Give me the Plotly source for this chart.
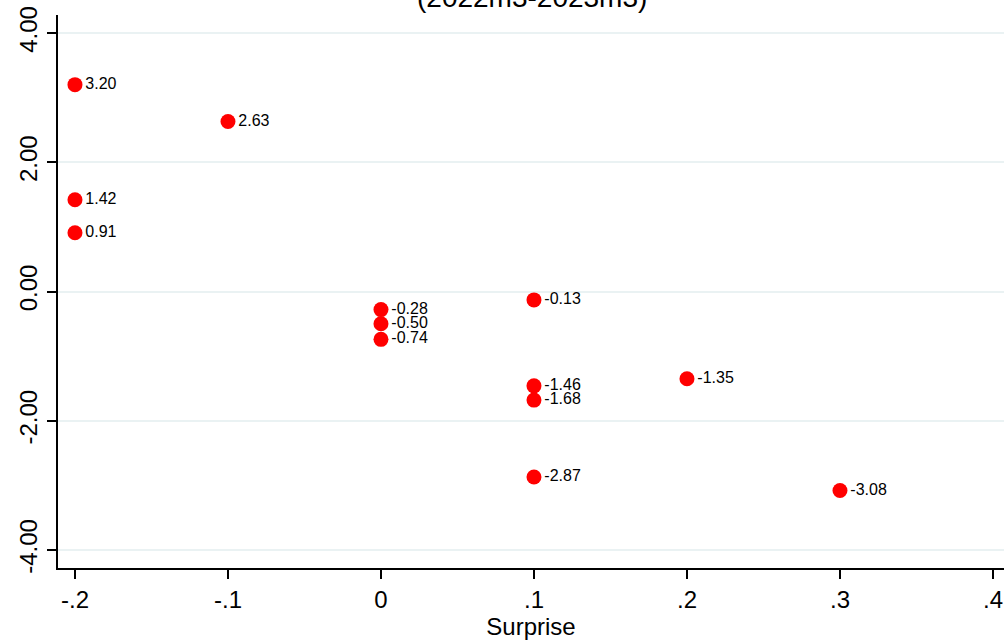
import plotly.graph_objects as go

surprise = [-0.2, -0.1, -0.2, -0.2, 0.0, 0.0, 0.0, 0.1, 0.1, 0.1, 0.2, 0.1, 0.3]
response = [3.20, 2.63, 1.42, 0.91, -0.28, -0.50, -0.74, -0.13, -1.46, -1.68, -1.35, -2.87, -3.08]
labels = [f"{v:.2f}" for v in response]

x_ticks = [-0.2, -0.1, 0.0, 0.1, 0.2, 0.3, 0.4]
x_ticktext = ["-.2", "-.1", "0", ".1", ".2", ".3", ".4"]
y_ticks = [-4, -2, 0, 2, 4]
y_ticktext = ["-4.00", "-2.00", "0.00", "2.00", "4.00"]

FONT = "Liberation Sans, Arial, sans-serif"

fig = go.Figure()
fig.add_trace(go.Scatter(
    x=surprise, y=response, mode="markers+text",
    text=labels, textposition="middle right",
    textfont=dict(family=FONT, size=16, color="black"),
    marker=dict(color="#ff0000", size=15, line=dict(width=0)),
    cliponaxis=False, showlegend=False,
))

fig.update_layout(
    width=1004, height=640,
    margin=dict(l=58, r=0, t=15, b=72),
    paper_bgcolor="white", plot_bgcolor="white",
    font=dict(family=FONT, color="black"),
    xaxis=dict(
        range=[-0.2111, 0.4072], tickvals=x_ticks, ticktext=x_ticktext,
        tickfont=dict(size=24), ticks="outside", ticklen=9, tickwidth=1.5, tickcolor="black",
        showline=True, linecolor="black", linewidth=2, showgrid=False, zeroline=False,
        title=dict(text="Surprise", font=dict(size=24), standoff=6),
    ),
    yaxis=dict(
        range=[-4.278, 4.278], tickvals=y_ticks, ticktext=y_ticktext,
        tickfont=dict(size=24), tickangle=-90, ticks="outside", ticklen=9, tickwidth=1.5, tickcolor="black",
        showline=True, linecolor="black", linewidth=2,
        showgrid=True, gridcolor="#eaf2f3", gridwidth=2, zeroline=False,
    ),
    annotations=[dict(
        text="(2022m3-2023m3)", xref="paper", yref="paper", x=0.501, y=1.0,
        xanchor="center", yanchor="bottom", showarrow=False,
        font=dict(family=FONT, size=28, color="black"),
    )],
)

fig.write_html(
    "out.html",
    config={"displayModeBar": False},
    post_script="document.body.style.margin='0';document.body.style.overflow='hidden';",
)
